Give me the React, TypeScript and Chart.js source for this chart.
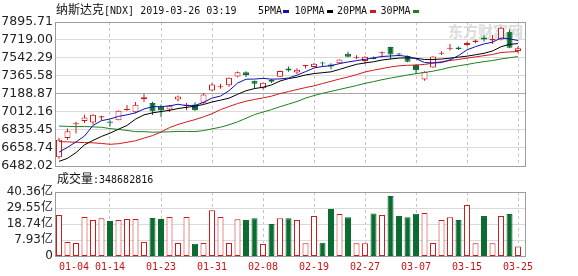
import React, { useEffect, useRef } from "react";
import { Chart, registerables } from "chart.js";

Chart.register(...registerables);

// ---------- data ----------
const dates = [
  "01-04", "01-07", "01-08", "01-09", "01-10", "01-11", "01-14", "01-15", "01-16", "01-17",
  "01-18", "01-22", "01-23", "01-24", "01-25", "01-28", "01-29", "01-30", "01-31", "02-01",
  "02-04", "02-05", "02-06", "02-07", "02-08", "02-11", "02-12", "02-13", "02-14", "02-15",
  "02-19", "02-20", "02-21", "02-22", "02-25", "02-26", "02-27", "02-28", "03-01", "03-04",
  "03-05", "03-06", "03-07", "03-08", "03-11", "03-12", "03-13", "03-14", "03-15", "03-18",
  "03-19", "03-20", "03-21", "03-22", "03-25",
];

const opens = [
  6567, 6757, 6893, 6923, 6908, 6958, 6918, 6931, 7033, 7010,
  7140, 7100, 7066, 7037, 7136, 7070, 7085, 7103, 7223, 7255,
  7275, 7360, 7403, 7318, 7245, 7327, 7357, 7440, 7400, 7463,
  7455, 7494, 7478, 7490, 7585, 7545, 7512, 7544, 7588, 7650,
  7585, 7562, 7476, 7332, 7448, 7583, 7632, 7645, 7670, 7700,
  7744, 7713, 7723, 7800, 7610,
];
const highs = [
  6760, 6850, 6917, 6985, 6990, 6975, 6930, 7028, 7080, 7110,
  7190, 7113, 7085, 7080, 7175, 7100, 7108, 7196, 7295, 7290,
  7350, 7410, 7411, 7322, 7300, 7337, 7420, 7460, 7442, 7474,
  7496, 7505, 7490, 7528, 7604, 7570, 7560, 7556, 7606, 7653,
  7591, 7568, 7480, 7412, 7560, 7608, 7680, 7655, 7702, 7724,
  7765, 7769, 7850, 7822, 7657,
];
const lows = [
  6554, 6740, 6800, 6903, 6889, 6932, 6870, 6931, 7025, 7000,
  7110, 6983, 6960, 7012, 7115, 7030, 7021, 7092, 7216, 7240,
  7260, 7353, 7355, 7241, 7235, 7298, 7355, 7408, 7384, 7440,
  7452, 7460, 7433, 7485, 7550, 7530, 7485, 7530, 7550, 7530,
  7560, 7500, 7387, 7319, 7446, 7571, 7615, 7620, 7660, 7687,
  7704, 7680, 7713, 7639, 7591,
];
const closes = [
  6738.86, 6823.47, 6897.0, 6957.08, 6986.07, 6971.48, 6905.92, 7023.83, 7034.69, 7084.46,
  7157.23, 7020.36, 7025.77, 7073.46, 7164.86, 7085.68, 7028.29, 7183.08, 7281.74, 7263.87,
  7347.54, 7402.08, 7375.28, 7288.35, 7298.2, 7307.9, 7414.62, 7420.38, 7426.95, 7472.41,
  7486.77, 7489.07, 7459.71, 7527.54, 7554.46, 7549.3, 7554.51, 7532.53, 7595.35, 7577.57,
  7576.36, 7505.92, 7421.46, 7408.14, 7558.06, 7591.03, 7643.41, 7630.91, 7688.53, 7714.48,
  7723.95, 7728.97, 7838.96, 7642.67, 7637.54,
];

// volume in 亿
const volumes = [
  24.8, 6.6, 5.9, 23.5, 21.4, 22.6, 20.8, 21.4, 22.1, 22.1,
  6.6, 22.8, 22.1, 23.5, 5.9, 23.5, 5.4, 5.9, 28.0, 23.5,
  5.9, 21.9, 21.4, 22.6, 5.2, 18.7, 22.6, 22.6, 21.4, 5.7,
  24.1, 6.1, 28.9, 25.5, 23.3, 5.7, 5.7, 25.9, 24.8, 37.7,
  24.1, 23.3, 25.7, 26.2, 5.9, 21.4, 23.3, 21.4, 31.6, 5.7,
  24.1, 5.7, 24.1, 25.5, 3.49,
];

const ma5 = [
  6617.6, 6665.4, 6717.8, 6776.0, 6880.5, 6927.0, 6943.5, 6968.9, 6984.4, 7004.1,
  7041.2, 7064.1, 7064.5, 7072.3, 7088.3, 7074.0, 7075.6, 7107.1, 7148.7, 7168.5,
  7220.9, 7295.7, 7334.1, 7335.4, 7342.3, 7334.4, 7336.9, 7345.9, 7373.6, 7408.5,
  7444.2, 7459.1, 7467.0, 7487.1, 7503.5, 7516.0, 7529.1, 7543.7, 7557.2, 7561.9,
  7567.3, 7557.5, 7535.3, 7497.9, 7494.0, 7496.9, 7524.4, 7566.3, 7622.4, 7653.7,
  7680.3, 7697.4, 7739.0, 7729.8, 7714.4,
];
const ma10 = [
  6527.6, 6557.1, 6613.5, 6689.9, 6733.1, 6772.3, 6804.5, 6843.3, 6880.2, 6942.3,
  6984.1, 7003.8, 7016.7, 7028.3, 7046.2, 7057.6, 7069.9, 7085.8, 7110.5, 7128.4,
  7147.5, 7185.6, 7220.6, 7242.1, 7255.4, 7277.6, 7316.3, 7340.0, 7354.5, 7375.4,
  7389.3, 7398.0, 7406.4, 7430.4, 7456.0, 7480.1, 7494.1, 7505.3, 7522.2, 7532.7,
  7541.6, 7543.3, 7539.5, 7527.6, 7527.9, 7532.1, 7541.0, 7550.8, 7560.1, 7573.8,
  7588.6, 7610.9, 7652.6, 7676.1, 7684.0,
];
const ma20 = [
  6722.0, 6718.8, 6715.1, 6712.0, 6709.7, 6703.3, 6695.1, 6700.8, 6714.8, 6729.9,
  6755.9, 6780.5, 6815.1, 6859.1, 6889.7, 6915.0, 6937.2, 6964.6, 6995.3, 7035.4,
  7065.8, 7094.7, 7118.6, 7135.2, 7150.8, 7167.6, 7193.1, 7212.9, 7232.5, 7251.9,
  7268.4, 7291.8, 7313.5, 7336.2, 7355.7, 7378.9, 7405.2, 7422.7, 7438.3, 7454.0,
  7465.5, 7470.7, 7473.0, 7479.0, 7492.0, 7506.1, 7517.5, 7528.1, 7541.2, 7553.3,
  7565.1, 7577.1, 7596.1, 7601.8, 7606.0,
];
const ma30 = [
  6873.9, 6871.1, 6868.6, 6869.2, 6866.0, 6862.3, 6849.4, 6841.1, 6831.2, 6819.3,
  6819.3, 6813.7, 6815.6, 6817.4, 6821.8, 6821.4, 6820.0, 6829.1, 6846.7, 6862.7,
  6886.4, 6915.5, 6950.3, 6986.8, 7011.6, 7035.9, 7063.5, 7089.7, 7115.1, 7148.7,
  7173.6, 7195.8, 7214.6, 7233.6, 7252.5, 7271.8, 7293.4, 7310.4, 7329.1, 7345.5,
  7359.5, 7375.7, 7388.8, 7400.0, 7413.1, 7430.0, 7450.5, 7465.4, 7478.9, 7494.0,
  7506.5, 7517.4, 7532.9, 7544.7, 7556.0,
];

const priceTicks = [6482.02, 6658.74, 6835.45, 7012.16, 7188.87, 7365.58, 7542.29, 7719.0, 7895.71];
const volTicks = [-2.88, 7.93, 18.74, 29.55, 40.36];
const volTickLabels = ["0", "7.93亿", "18.74亿", "29.55亿", "40.36亿"];
const xTickIndex = [0, 6, 12, 18, 24, 30, 36, 42, 48, 54];
const maNames = ["5PMA", "10PMA", "20PMA", "30PMA"];
const titleName = "纳斯达克";
const titleCode = "[NDX] 2019-03-26 03:19";
const volumeHeader = "成交量";
const volumeHeaderValue = ":348682816";

// ---------- styles ----------
const RED = "#d01a1a";
const GREEN = "#0b6b30";
const MA_COLORS = ["#1010b0", "#000000", "#d01a1a", "#1f7f1f"];
const X_MIN = -0.47;
const X_MAX = 54.82;
const MONO = '"DejaVu Sans Mono", "Noto Sans CJK SC", monospace';
const SANS = '"DejaVu Sans", "Noto Sans CJK SC", sans-serif';
const CJK = '"Noto Sans CJK SC", sans-serif';

const isUp = (i: number) => closes[i] >= opens[i];

const framePlugin = {
  id: "frame",
  afterDraw(chart: any) {
    const { ctx, chartArea: a } = chart;
    ctx.save();
    ctx.strokeStyle = "#9c9c9c";
    ctx.lineWidth = 1;
    ctx.strokeRect(Math.round(a.left) + 0.5, Math.round(a.top) + 0.5, Math.round(a.right - a.left), Math.round(a.bottom - a.top));
    ctx.restore();
  },
};

function xScale(showLabels: boolean): any {
  return {
    type: "linear",
    min: X_MIN,
    max: X_MAX,
    offset: false,
    afterBuildTicks: (s: any) => {
      s.ticks = xTickIndex.map((v) => ({ value: v }));
    },
    afterFit: (s: any) => {
      s.height = showLabels ? 20 : 0;
    },
    ticks: showLabels
      ? {
          autoSkip: false,
          maxRotation: 0,
          minRotation: 0,
          padding: 5,
          color: "#c81414",
          font: { family: MONO, size: 10 },
          callback: (v: any) => (Number(v) === 0 ? "     " + dates[0] : dates[Number(v)]),
        }
      : { display: false },
    grid: {
      offset: false,
      drawTicks: false,
      lineWidth: 1,
      color: (c: any) => (c.tick && c.tick.value === 0 ? "rgba(0,0,0,0)" : "#c4c4c4"),
    },
    border: { display: false, dash: [3, 3] },
  };
}

export default function App() {
  const mainRef = useRef<HTMLCanvasElement>(null);
  const volRef = useRef<HTMLCanvasElement>(null);

  useEffect(() => {
    const idx = closes.map((_, i) => i);
    const candleBodies = idx.map((i) => ({ x: i, y: [opens[i], closes[i]] }));
    const candleWicks = idx.map((i) => ({ x: i, y: [lows[i], highs[i]] }));
    const maSets = [ma5, ma10, ma20, ma30].map((arr, k) => ({
      type: "line",
      label: maNames[k],
      data: arr.map((y, i) => ({ x: i, y })),
      borderColor: MA_COLORS[k],
      borderWidth: 1,
      pointRadius: 0,
      tension: 0,
      fill: false,
      order: 0,
    }));

    const main = new Chart(mainRef.current as HTMLCanvasElement, {
      type: "bar",
      data: {
        datasets: [
          ...maSets,
          {
            type: "bar",
            label: "body",
            data: candleBodies,
            backgroundColor: idx.map((i) => (isUp(i) ? "#ffffff" : GREEN)),
            borderColor: idx.map((i) => (isUp(i) ? RED : GREEN)),
            borderWidth: 1,
            borderSkipped: false,
            barThickness: 6,
            minBarLength: 1,
            grouped: false,
            inflateAmount: 0,
            order: 1,
          },
          {
            type: "bar",
            label: "wick",
            data: candleWicks,
            backgroundColor: idx.map((i) => (isUp(i) ? RED : GREEN)),
            borderWidth: 0,
            barThickness: 1,
            grouped: false,
            inflateAmount: 0,
            order: 2,
          },
        ] as any,
      },
      options: {
        animation: false,
        responsive: false,
        maintainAspectRatio: false,
        devicePixelRatio: 1,
        events: [],
        layout: { padding: { left: 0, right: 53, top: 22, bottom: 10 } },
        plugins: { legend: { display: false }, tooltip: { enabled: false }, title: { display: false } },
        scales: {
          x: xScale(false),
          y: {
            type: "linear",
            min: priceTicks[0],
            max: priceTicks[priceTicks.length - 1],
            afterBuildTicks: (s: any) => {
              s.ticks = priceTicks.map((v) => ({ value: v }));
            },
            afterFit: (s: any) => {
              s.width = 55;
            },
            ticks: {
              autoSkip: false,
              padding: 2,
              color: "#222222",
              font: { family: SANS, size: 12.5 },
              callback: (v: any) => Number(v).toFixed(2),
            },
            grid: {
              drawTicks: false,
              lineWidth: 1,
              color: (c: any) => (c.index === 4 ? "#a6a6a6" : "#dadada"),
            },
            border: { display: false },
          },
        } as any,
      },
      plugins: [framePlugin],
    });

    const vol = new Chart(volRef.current as HTMLCanvasElement, {
      type: "bar",
      data: {
        datasets: [
          {
            label: "volume",
            data: idx.map((i) => ({ x: i, y: [volTicks[0], volumes[i]] })),
            backgroundColor: idx.map((i) => (isUp(i) ? "#ffffff" : GREEN)),
            borderColor: idx.map((i) => (isUp(i) ? RED : GREEN)),
            borderWidth: 1,
            borderSkipped: false,
            barThickness: 6,
            grouped: false,
            inflateAmount: 0,
          },
        ] as any,
      },
      options: {
        animation: false,
        responsive: false,
        maintainAspectRatio: false,
        devicePixelRatio: 1,
        events: [],
        layout: { padding: { left: 0, right: 53, top: 16, bottom: 0 } },
        plugins: { legend: { display: false }, tooltip: { enabled: false }, title: { display: false } },
        scales: {
          x: xScale(true),
          y: {
            type: "linear",
            min: volTicks[0],
            max: volTicks[volTicks.length - 1],
            afterBuildTicks: (s: any) => {
              s.ticks = volTicks.map((v) => ({ value: v }));
            },
            afterFit: (s: any) => {
              s.width = 55;
            },
            ticks: {
              autoSkip: false,
              padding: 2,
              color: "#222222",
              font: { family: SANS, size: 12 },
              callback: (_v: any, i: number) => volTickLabels[i],
            },
            grid: { drawTicks: false, lineWidth: 1, color: "#dadada" },
            border: { display: false },
          },
        } as any,
      },
      plugins: [framePlugin],
    });

    return () => {
      main.destroy();
      vol.destroy();
    };
  }, []);

  const legendPos = [
    { text: 258, dash: 283 },
    { text: 294.5, dash: 327 },
    { text: 337, dash: 370 },
    { text: 380.5, dash: 413 },
  ];

  return (
    <div style={{ position: "absolute", left: 0, top: 0, width: 578, height: 276, background: "#ffffff", overflow: "hidden" }}>
      <div
        style={{
          position: "absolute",
          left: 448,
          top: 23,
          fontFamily: CJK,
          fontWeight: 700,
          fontSize: 15,
          lineHeight: "15px",
          color: "#dcdcdc",
          whiteSpace: "pre",
        }}
      >
        东方财富网
      </div>
      <canvas ref={mainRef} width={578} height={176} style={{ position: "absolute", left: 0, top: 0 }} />
      <canvas ref={volRef} width={578} height={100} style={{ position: "absolute", left: 0, top: 176 }} />
      <div style={{ position: "absolute", left: 56, top: 1, lineHeight: "16px", whiteSpace: "pre", color: "#111" }}>
        <span style={{ fontFamily: CJK, fontSize: 12 }}>{titleName}</span>
        <span style={{ fontFamily: MONO, fontSize: 10 }}>{titleCode}</span>
      </div>
      {maNames.map((name, k) => (
        <React.Fragment key={name}>
          <div
            style={{
              position: "absolute",
              left: legendPos[k].text,
              top: 2.5,
              fontFamily: MONO,
              fontSize: 10,
              lineHeight: "16px",
              color: "#111",
              whiteSpace: "pre",
            }}
          >
            {name}
          </div>
          <div
            style={{
              position: "absolute",
              left: legendPos[k].dash,
              top: 10,
              width: 6,
              height: 3,
              background: MA_COLORS[k],
            }}
          />
        </React.Fragment>
      ))}
      <div style={{ position: "absolute", left: 57, top: 170, lineHeight: "16px", whiteSpace: "pre", color: "#111" }}>
        <span style={{ fontFamily: CJK, fontSize: 12 }}>{volumeHeader}</span>
        <span style={{ fontFamily: MONO, fontSize: 10 }}>{volumeHeaderValue}</span>
      </div>
    </div>
  );
}
